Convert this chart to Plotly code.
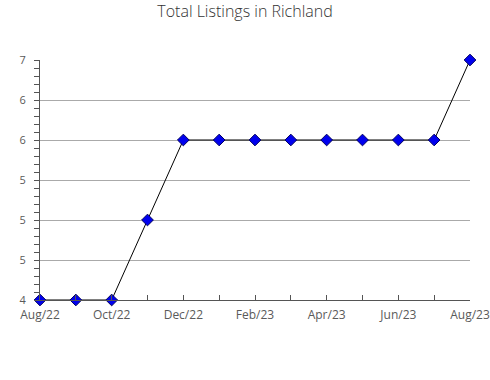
import plotly.graph_objects as go

months = ["Aug/22", "Sep/22", "Oct/22", "Nov/22", "Dec/22", "Jan/23", "Feb/23",
          "Mar/23", "Apr/23", "May/23", "Jun/23", "Jul/23", "Aug/23"]
listings = [4, 4, 4, 5, 6, 6, 6, 6, 6, 6, 6, 6, 7]
y_tickvals = [4, 4.5, 5, 5.5, 6, 6.5, 7]
y_ticktext = ["4", "5", "5", "5", "6", "6", "7"]

x_idx = list(range(len(months)))
x_ticktext = [m if i % 2 == 0 else "" for i, m in enumerate(months)]

fig = go.Figure()
fig.add_trace(go.Scatter(
    x=x_idx, y=listings, mode="lines+markers",
    line=dict(color="black", width=1),
    marker=dict(symbol="diamond", size=9, color="#0000ee",
                line=dict(color="#000060", width=1)),
    cliponaxis=False, showlegend=False,
))

fig.update_layout(
    width=490, height=380,
    margin=dict(l=40, r=20, t=60, b=80, autoexpand=False),
    paper_bgcolor="white", plot_bgcolor="white",
    font=dict(family="Open Sans, sans-serif", size=12, color="#5a5a5a"),
    title=dict(text="Total Listings in Richland", x=0.5, xanchor="center",
               y=0.985, yanchor="top",
               font=dict(family="Open Sans, sans-serif", size=16, color="#333333", weight=300)),
)
fig.update_xaxes(
    range=[0, 12], tickvals=x_idx, ticktext=x_ticktext,
    showgrid=False, showline=True, linecolor="#555555", linewidth=1,
    ticks="inside", ticklen=5, tickcolor="#555555", zeroline=False,
    ticklabelstandoff=4,
)
fig.update_yaxes(
    range=[4, 7], tickvals=y_tickvals, ticktext=y_ticktext,
    showgrid=True, gridcolor="#aaaaaa", gridwidth=1,
    showline=True, linecolor="#555555", linewidth=1,
    ticks="outside", ticklen=5, tickcolor="#555555", zeroline=False,
    ticklabelstandoff=6, tickfont=dict(size=11),
    minor=dict(dtick=0.1, tick0=4, ticks="outside", ticklen=5, tickcolor="#555555", showgrid=False),
)

fig.write_html("out.html")
